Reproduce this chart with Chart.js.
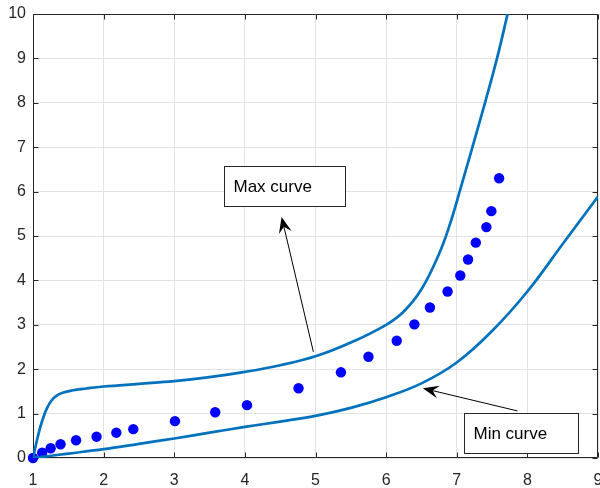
<!DOCTYPE html>
<html>
<head>
<meta charset="utf-8">
<script src="https://cdn.jsdelivr.net/npm/chart.js@4"></script>
<style>
  html, body { margin: 0; padding: 0; background: #fff; }
  #myChart { display: block; }
</style>
</head>
<body>
<canvas id="myChart" width="600" height="488"></canvas>
<script>
// measured points
var pointX = [1.0, 1.13, 1.25, 1.39, 1.61, 1.90, 2.18, 2.42, 3.01, 3.58, 4.03, 4.76,
  5.36, 5.75, 6.15, 6.40, 6.62, 6.87, 7.05, 7.16, 7.27, 7.42, 7.49, 7.60];
var pointY = [0, 0.12, 0.22, 0.31, 0.40, 0.48, 0.57, 0.65, 0.83, 1.03, 1.19, 1.57,
  1.93, 2.28, 2.64, 3.01, 3.39, 3.75, 4.11, 4.47, 4.85, 5.20, 5.56, 6.30];

// upper bound curve
var maxX = [1.00, 1.05, 1.10, 1.15, 1.20, 1.26, 1.33, 1.42, 1.55, 1.75, 2.00, 2.50,
  3.00, 3.50, 4.00, 4.50, 5.00, 5.50, 6.00, 6.25, 6.50, 6.75, 6.90, 7.05, 7.20, 7.40, 7.57, 7.72];
var maxY = [0.00, 0.36, 0.68, 0.93, 1.13, 1.29, 1.40, 1.47, 1.52, 1.565, 1.61, 1.67,
  1.73, 1.82, 1.94, 2.09, 2.29, 2.60, 3.00, 3.30, 3.80, 4.60, 5.25, 6.05, 6.88, 8.00, 9.00, 10.0];

// lower bound curve
var minX = [1.0, 1.5, 2.0, 2.5, 3.0, 3.5, 4.0, 4.5, 5.0, 5.5, 6.0, 6.5, 7.0,
  7.5, 8.0, 8.5, 9.0];
var minY = [0, 0.10, 0.20, 0.32, 0.44, 0.57, 0.70, 0.82, 0.95, 1.13, 1.37, 1.68, 2.15,
  2.86, 3.75, 4.82, 5.89];

var xTicks = [1, 2, 3, 4, 5, 6, 7, 8, 9];
var yTicks = [0, 1, 2, 3, 4, 5, 6, 7, 8, 9, 10];

// text boxes with arrows (data units)
var notes = [
  { text: "Max curve", box: [3.71, 6.58, 5.42, 5.68], from: [4.97, 2.39], to: [4.52, 5.43] },
  { text: "Min curve", box: [7.10, 1.01, 8.71, 0.12], from: [7.86, 1.06], to: [6.52, 1.57] }
];

var lineBlue = "#0072BD";
var axisColor = "#262626";
var fontFamily = "'Liberation Sans', Arial, Helvetica, sans-serif";

function toXY(xs, ys) {
  return xs.map(function (x, i) { return { x: x, y: ys[i] }; });
}

// box around the axes with inward ticks
var axesBox = {
  id: "axesBox",
  beforeDatasetsDraw: function (chart) {
    var ctx = chart.ctx;
    var a = chart.chartArea;
    var sx = chart.scales.x, sy = chart.scales.y;
    var L = Math.round(a.left) + 0.5, R = Math.round(a.right) - 0.5;
    var T = Math.round(a.top) + 0.5, B = Math.round(a.bottom) - 0.5;
    ctx.save();
    ctx.strokeStyle = axisColor;
    ctx.lineWidth = 1;
    ctx.beginPath();
    ctx.rect(L, T, R - L, B - T);
    xTicks.forEach(function (v) {
      var px = Math.round(sx.getPixelForValue(v)) + 0.5;
      ctx.moveTo(px, B); ctx.lineTo(px, B - 5);
      ctx.moveTo(px, T); ctx.lineTo(px, T + 5);
    });
    yTicks.forEach(function (v) {
      var py = Math.round(sy.getPixelForValue(v)) + 0.5;
      ctx.moveTo(L, py); ctx.lineTo(L + 5, py);
      ctx.moveTo(R, py); ctx.lineTo(R - 5, py);
    });
    ctx.stroke();
    ctx.restore();
  }
};

function arrow(ctx, x0, y0, x1, y1) {
  var ang = Math.atan2(y1 - y0, x1 - x0);
  var len = 16, half = 6.5, notch = 10;
  ctx.beginPath();
  ctx.moveTo(x0, y0);
  ctx.lineTo(x1 - Math.cos(ang) * notch, y1 - Math.sin(ang) * notch);
  ctx.stroke();
  var bx = x1 - Math.cos(ang) * len, by = y1 - Math.sin(ang) * len;
  var nx = -Math.sin(ang), ny = Math.cos(ang);
  ctx.beginPath();
  ctx.moveTo(x1, y1);
  ctx.lineTo(bx + nx * half, by + ny * half);
  ctx.lineTo(x1 - Math.cos(ang) * notch, y1 - Math.sin(ang) * notch);
  ctx.lineTo(bx - nx * half, by - ny * half);
  ctx.closePath();
  ctx.fill();
}

var noteLayer = {
  id: "noteLayer",
  afterDatasetsDraw: function (chart) {
    var ctx = chart.ctx;
    var sx = chart.scales.x, sy = chart.scales.y;
    ctx.save();
    notes.forEach(function (n) {
      ctx.strokeStyle = "#000";
      ctx.fillStyle = "#000";
      ctx.lineWidth = 1;
      arrow(ctx, sx.getPixelForValue(n.from[0]), sy.getPixelForValue(n.from[1]),
        sx.getPixelForValue(n.to[0]), sy.getPixelForValue(n.to[1]));

      var l = Math.round(sx.getPixelForValue(n.box[0])) + 0.5;
      var t = Math.round(sy.getPixelForValue(n.box[1])) + 0.5;
      var r = Math.round(sx.getPixelForValue(n.box[2])) + 0.5;
      var b = Math.round(sy.getPixelForValue(n.box[3])) + 0.5;
      ctx.fillStyle = "#fff";
      ctx.fillRect(l, t, r - l, b - t);
      ctx.strokeStyle = axisColor;
      ctx.strokeRect(l, t, r - l, b - t);
      ctx.fillStyle = "#000";
      ctx.font = "17px " + fontFamily;
      ctx.textBaseline = "middle";
      ctx.textAlign = "left";
      ctx.fillText(n.text, l + 9, (t + b) / 2 + 1);
    });
    ctx.restore();
  }
};

new Chart("myChart", {
  type: "scatter",
  data: {
    datasets: [{
      data: toXY(maxX, maxY),
      showLine: true,
      borderColor: lineBlue,
      borderWidth: 2.7,
      pointRadius: 0,
      tension: 0.4,
      fill: false
    }, {
      data: toXY(minX, minY),
      showLine: true,
      borderColor: lineBlue,
      borderWidth: 2.7,
      pointRadius: 0,
      tension: 0.4,
      fill: false
    }, {
      data: toXY(pointX, pointY),
      showLine: false,
      backgroundColor: "#0000FF",
      borderWidth: 0,
      pointRadius: 5.2,
      clip: false
    }]
  },
  options: {
    responsive: false,
    animation: false,
    devicePixelRatio: 1,
    layout: { autoPadding: false, padding: { top: 14, right: 2, left: 0, bottom: 0 } },
    plugins: { legend: { display: false }, tooltip: { enabled: false } },
    scales: {
      x: {
        type: "linear", min: 1, max: 9,
        afterBuildTicks: function (s) { s.ticks = xTicks.map(function (v) { return { value: v }; }); },
        afterFit: function (s) { s.height = 30; s.paddingLeft = 0; s.paddingRight = 0; },
        ticks: { color: axisColor, padding: 13, maxRotation: 0, autoSkip: false, font: { family: fontFamily, size: 16 } },
        grid: { color: "#e3e3e3", drawTicks: false },
        border: { display: false }
      },
      y: {
        type: "linear", min: 0, max: 10,
        afterBuildTicks: function (s) { s.ticks = yTicks.map(function (v) { return { value: v }; }); },
        afterFit: function (s) { s.width = 33; s.paddingTop = 0; s.paddingBottom = 0; },
        ticks: { color: axisColor, padding: 7, autoSkip: false, font: { family: fontFamily, size: 16 } },
        grid: { color: "#e3e3e3", drawTicks: false },
        border: { display: false }
      }
    }
  },
  plugins: [axesBox, noteLayer]
});
</script>
</body>
</html>
